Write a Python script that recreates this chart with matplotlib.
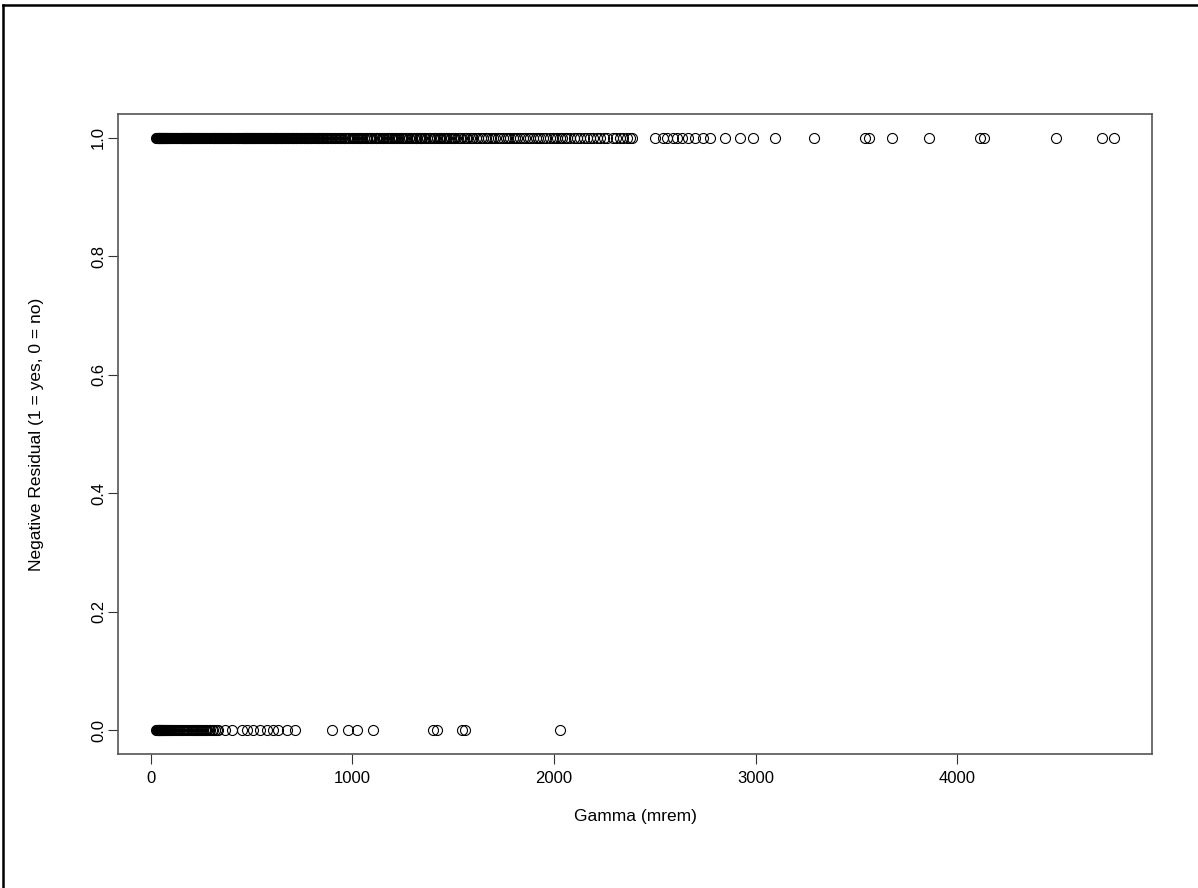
import matplotlib.pyplot as plt
from matplotlib.lines import Line2D

plt.rcParams['font.family'] = ['Liberation Sans', 'DejaVu Sans']

# gamma values (mrem) with a negative residual (y = 1)
gamma_yes = [28, 31, 33, 35, 36, 38, 40, 41, 43, 45, 47, 48, 50, 52, 54, 55, 57, 59,
             61, 63, 65, 67, 69, 71, 73, 76, 78, 80, 83, 85, 88, 90, 93, 96, 99, 102,
             105, 108, 111, 114, 118, 121, 125, 128, 132, 136, 140, 144, 148, 152, 157,
             161, 166, 170, 175, 180, 185, 190, 196, 201, 207, 213, 219, 225, 231, 238,
             244, 251, 258, 265, 272, 280, 288, 296, 304, 312, 321, 330, 339, 348, 358,
             368, 378, 389, 400, 411, 422, 434, 446, 458, 471, 484, 497, 511, 525, 540,
             555, 570, 586, 602, 619, 636, 653, 671, 690, 709, 728, 748, 769, 790, 812,
             834, 857, 880, 904, 928, 941, 966, 991, 1015, 1040, 1066, 1090, 1115, 1139,
             1165, 1190, 1214, 1240, 1272, 1295, 1322, 1348, 1372, 1398, 1421, 1451,
             1478, 1511, 1540, 1570, 1600, 1625, 1650, 1699, 1734, 1760, 1784, 1818,
             1833, 1883, 1910, 1932, 1982, 2017, 2040, 2066, 2131, 2165, 2195, 2230,
             2294, 2344, 2363, 2375, 2503, 2542, 2562, 2592, 2610, 2637, 2666, 2701,
             2741, 2776, 2850, 2924, 2989, 3098, 3287, 3540, 3560, 3678, 3861, 4115,
             4130, 4491, 4720, 4775,
             154, 159, 163, 168, 173, 177, 183, 188, 193, 198, 204, 210, 216, 222, 228,
             234, 241, 247, 254, 261, 268, 276, 284, 292, 300, 308, 316, 325, 334, 343,
             353, 363, 373, 383, 394, 405, 416, 428, 440, 452, 464, 477, 490, 504, 518,
             532, 547, 562, 578, 594, 610, 627, 644, 662, 680, 699, 718, 738, 758, 779,
             801, 823, 845, 868, 892, 315, 326, 337, 349, 360, 372, 385, 397, 409, 421,
             437, 449, 462, 475, 488, 501, 515, 529, 543, 558, 573, 589, 605, 621, 633,
             648, 665, 683, 702, 721, 741, 761, 782, 795, 818, 840, 851, 874, 896,
             455, 461, 467, 472, 480, 486, 493, 499, 507, 513, 521, 527, 535, 544, 551,
             560, 566, 575, 582, 591, 598, 607, 615, 624, 630, 640, 651, 657, 668, 676,
             686, 694, 705, 713, 724, 733, 744, 752, 765, 773, 786, 793, 806, 815, 828,
             837, 849, 862, 871, 885,
             912, 921, 935, 949, 958, 973, 985, 998, 1008, 1022, 1033, 1049, 1057, 1075,
             1083, 1098, 1107, 1124, 1133, 1150, 1158, 1176, 1182, 1199, 1207, 1225,
             1233, 1252, 1262, 1283, 1304, 1314, 1335, 1341, 1360, 1385, 1409, 1436,
             1442, 1465, 1490, 1499, 1525, 1555, 1586, 1612, 1640, 1662, 1675, 1688,
             1710, 1722, 1748, 1772, 1797, 1806, 1846, 1858, 1871, 1896, 1922, 1945,
             1958, 1994, 2005, 2029, 2053, 2081, 2097, 2113, 2148, 2181, 2212, 2247,
             2263, 2310, 2326, 2385,
             916, 944, 962, 978, 1003, 1028, 1044, 1070, 1094, 1119, 1145, 1170, 1195,
             1219, 1245, 1267, 1290, 1318, 1330, 1355, 1378, 1403, 1428, 1457, 1472,
             1505, 1532, 1562, 1592]

# gamma values (mrem) without a negative residual (y = 0)
gamma_no = [28, 30, 32, 34, 35, 37, 39, 41, 43, 44, 46, 48, 50, 52, 54, 56, 58, 60, 63,
            65, 68, 70, 73, 76, 79, 82, 85, 88, 92, 95, 99, 103, 107, 111, 115, 120, 125,
            130, 135, 141, 147, 153, 160, 167, 174, 182, 190, 199, 208, 218, 228, 239,
            250, 262, 275, 288, 302, 318, 336, 370, 404, 454, 479, 508, 543, 578, 608,
            632, 677, 717, 900, 980, 1024, 1104, 1401, 1421, 1545, 1560, 2031,
            205, 213, 223, 233, 245, 256, 268, 281, 295, 310, 327]

xticks = [0, 1000, 2000, 3000, 4000]
yticks = [0.0, 0.2, 0.4, 0.6, 0.8, 1.0]

fig = plt.figure(figsize=(11.98, 8.88), dpi=100)
ax = fig.add_axes([0.0985, 0.151, 0.863, 0.7207])

x = gamma_yes + gamma_no
y = [1] * len(gamma_yes) + [0] * len(gamma_no)
ax.plot(x, y, 'o', mfc='none', mec='black', ms=7.2, mew=0.8)

lo, hi = min(x), max(x)
r = hi - lo
ax.set_xlim(lo - 0.04 * r, hi + 0.04 * r)
ax.set_ylim(-0.04, 1.04)

ax.set_xticks(xticks)
ax.set_xticklabels([str(t) for t in xticks])
ax.set_yticks(yticks)
ax.set_yticklabels(["%.1f" % t for t in yticks], rotation=90, va='center')
ax.tick_params(length=7, width=0.8, labelsize=12, color='#333333')
ax.tick_params(axis='x', pad=5)
ax.tick_params(axis='y', pad=1.5)

for s in ax.spines.values():
    s.set_color('#555555')
    s.set_linewidth(1.2)

ax.set_xlabel("Gamma (mrem)", fontsize=12.5, labelpad=17)
ax.set_ylabel("Negative Residual (1 = yes, 0 = no)", fontsize=12.5, labelpad=34)

# border lines on the top and left of the image
fig.add_artist(Line2D([3 / 1198, 3 / 1198], [0, 1 - 5 / 888], transform=fig.transFigure,
                      color='black', lw=1.8))
fig.add_artist(Line2D([3 / 1198, 1], [1 - 5 / 888, 1 - 5 / 888], transform=fig.transFigure,
                      color='black', lw=1.8))

fig.savefig("out.png", dpi=100)
